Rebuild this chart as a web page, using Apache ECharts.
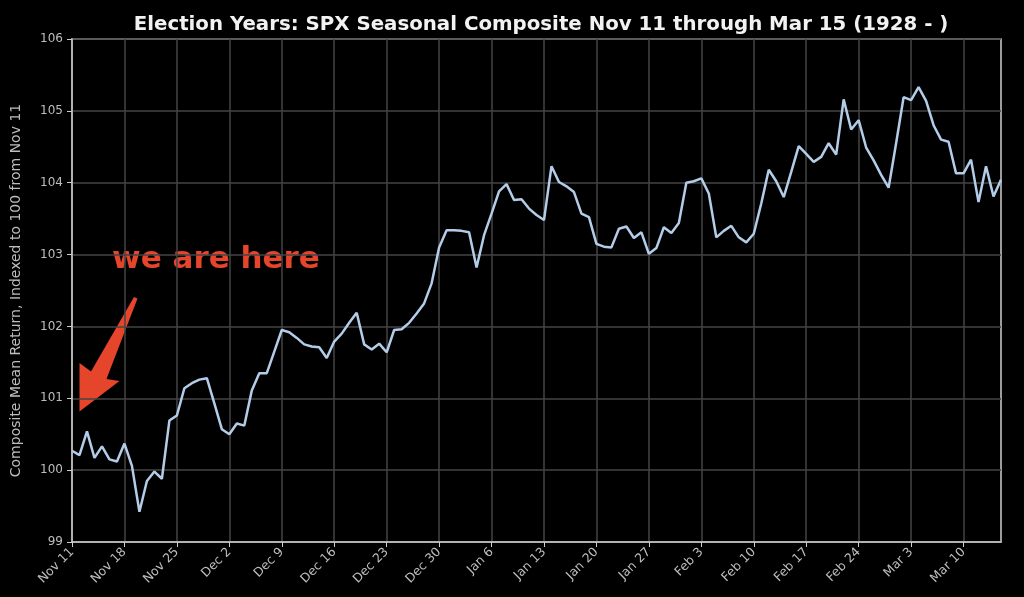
<!DOCTYPE html>
<html>
<head>
<meta charset="utf-8">
<script src="https://cdn.jsdelivr.net/npm/echarts@6/dist/echarts.min.js"></script>
<style>
html,body{margin:0;padding:0;background:#000;}
#c{width:1024px;height:597px;}
</style>
</head>
<body>
<div id="c"></div>
<script>
// Calendar days Nov 11 .. Mar 15
const monthSpans = [['Nov', 11, 30], ['Dec', 1, 31], ['Jan', 1, 31], ['Feb', 1, 28], ['Mar', 1, 15]];
const categories = [];
monthSpans.forEach(([m, a, b]) => { for (let d = a; d <= b; d++) categories.push(m + ' ' + d); });

const compositeValues = [
  100.27, 100.21, 100.54, 100.17, 100.33, 100.15, 100.12, 100.37, 100.06, 99.42,
  99.85, 99.98, 99.88, 100.69, 100.76, 101.14, 101.21, 101.26, 101.28, 100.93,
  100.57, 100.50, 100.65, 100.62, 101.11, 101.35, 101.35, 101.65, 101.95, 101.92,
  101.84, 101.75,
  101.72, 101.71, 101.56, 101.79, 101.90, 102.05, 102.19, 101.75, 101.68, 101.76,
  101.64, 101.95, 101.96, 102.05, 102.18, 102.32, 102.60, 103.10, 103.34, 103.34,
  103.33, 103.31, 102.82, 103.27, 103.57, 103.88, 103.98, 103.76, 103.77, 103.64,
  103.55,
  103.48, 104.23, 104.01, 103.95, 103.87, 103.57, 103.52, 103.15, 103.11, 103.10,
  103.36, 103.39, 103.23, 103.31, 103.01, 103.09, 103.38, 103.30, 103.44, 104.00,
  104.02, 104.06, 103.85, 103.24, 103.33, 103.40, 103.24, 103.17, 103.29, 103.71,
  104.18,
  104.02, 103.80, 104.15, 104.51, 104.40, 104.29, 104.36, 104.55, 104.39, 105.16,
  104.74, 104.87, 104.49, 104.31, 104.11, 103.93, 104.55, 105.19, 105.15, 105.33,
  105.14, 104.80, 104.60, 104.57, 104.13, 104.13, 104.32, 103.73, 104.23, 103.81,
  104.04
];

const yTicks = [99, 100, 101, 102, 103, 104, 105, 106];
const tickEvery = 7;

const titleText = 'Election Years: SPX Seasonal Composite Nov 11 through Mar 15 (1928 - )';
const yAxisTitle = 'Composite Mean Return, Indexed to 100 from Nov 11';
const noteText = 'we are here';

const chart = echarts.init(document.getElementById('c'), null, {renderer: 'canvas'});
const isTick = (idx) => idx % tickEvery === 0;

chart.setOption({
  backgroundColor: '#000',
  animation: false,
  title: {
    text: titleText,
    left: 536, top: 10, textAlign: 'center',
    textStyle: {color: '#f2f2f2', fontFamily: 'DejaVu Sans', fontWeight: 'bold', fontSize: 19.8}
  },
  grid: {left: 72, right: 23, top: 39, bottom: 55, show: true, borderColor: '#cfcfcf', borderWidth: 1.5, backgroundColor: '#000'},
  xAxis: {
    type: 'category', data: categories, boundaryGap: false,
    axisLine: {show: true, lineStyle: {color: '#cfcfcf', width: 1.5}},
    axisTick: {show: true, interval: (i) => isTick(i), length: 5, lineStyle: {color: '#cfcfcf'}},
    axisLabel: {interval: (i) => isTick(i), rotate: 45, color: '#bdbdbd', fontFamily: 'DejaVu Sans', fontSize: 12.5, margin: 8},
    splitLine: {show: true, interval: (i) => isTick(i), lineStyle: {color: '#444', width: 1.5}}
  },
  yAxis: {
    type: 'value', min: yTicks[0], max: yTicks[yTicks.length - 1], interval: 1,
    name: yAxisTitle, nameLocation: 'middle', nameGap: 49,
    nameTextStyle: {color: '#bdbdbd', fontFamily: 'DejaVu Sans', fontSize: 14},
    axisLine: {show: true, lineStyle: {color: '#cfcfcf', width: 1.5}},
    axisTick: {show: true, length: 5, lineStyle: {color: '#cfcfcf'}},
    axisLabel: {color: '#bdbdbd', fontFamily: 'DejaVu Sans', fontSize: 12, margin: 9},
    splitLine: {show: true, lineStyle: {color: '#444', width: 1.5}}
  },
  series: [{
    type: 'line', data: compositeValues, showSymbol: false, smooth: false,
    lineStyle: {color: '#b3cde9', width: 2.5}
  }],
  graphic: [
    {
      type: 'text', left: 112, top: 244,
      style: {text: noteText, fill: '#e4452b', font: 'bold 31px "DejaVu Sans"'}
    },
    {
      type: 'polygon',
      shape: {points: [[134, 297], [137.5, 298.5], [106.5, 379], [119.5, 381], [79.5, 411.5], [79.5, 363], [91, 371.5]]},
      style: {fill: '#e4452b'}
    }
  ]
});
</script>
</body>
</html>
